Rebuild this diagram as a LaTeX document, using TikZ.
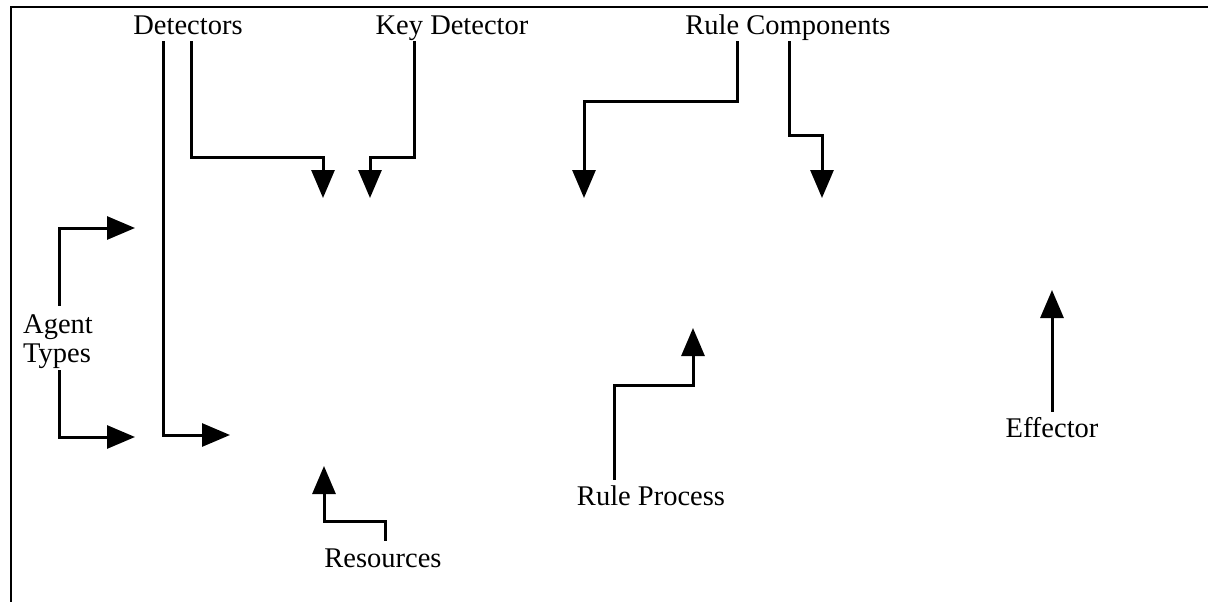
\documentclass[tikz,border=0pt]{standalone}
\usepackage{fontspec}
\setmainfont{Liberation Serif}
\usetikzlibrary{arrows.meta}

\tikzset{
  lbl/.style={inner sep=0pt, anchor=base, text height=19pt, text depth=6pt,
              font=\fontsize{28.5}{31}\selectfont},
  conn/.style={line width=3pt, -{Triangle[length=28pt,width=23pt]}},
  frame/.style={line width=2.5pt}
}

\begin{document}
\begin{tikzpicture}[x=1pt,y=-1pt]
  \useasboundingbox (0,0) rectangle (1208,602);

  % open frame: top and left edges only
  \draw[frame] (11,602) -- (11,7) -- (1208,7);

  % labels
  \node[lbl] (det)    at (188,35)  {Detectors};
  \node[lbl] (key)    at (452,35)  {Key Detector};
  \node[lbl] (rc)     at (788,35)  {Rule Components};
  \node[lbl] (agentA) at (58,333)  {Agent};
  \node[lbl] (agentB) at (57,362)  {Types};
  \node[lbl] (res)    at (383,567) {Resources};
  \node[lbl] (rp)     at (651,505) {Rule Process};
  \node[lbl] (eff)    at (1052,437){Effector};

  % free arrow ends
  \coordinate (tDetL)  at (230,435);
  \coordinate (tDetR)  at (323,198);
  \coordinate (tKey)   at (370,198);
  \coordinate (tRcL)   at (584,198);
  \coordinate (tRcR)   at (822,198);
  \coordinate (tAgU)   at (135,228);
  \coordinate (tAgD)   at (135,437);
  \coordinate (tRes)   at (324,466);
  \coordinate (tRp)    at (693,328);
  \coordinate (tEff)   at (1052,290);

  % connectors
  \draw[conn] ([xshift=-25pt]det.south) |- (tDetL);
  \draw[conn] ([xshift=3pt]det.south) -- ++(0,116) -| (tDetR);
  \draw[conn] ([xshift=-38pt]key.south) -- ++(0,116) -| (tKey);
  \draw[conn] ([xshift=-51pt]rc.south) -- ++(0,60) -| (tRcL);
  \draw[conn] ([xshift=1pt]rc.south) -- ++(0,94) -| (tRcR);
  \draw[conn] ([xshift=1pt,yshift=8pt]agentA.north) |- (tAgU);
  \draw[conn] ([xshift=2pt,yshift=-2pt]agentB.south) |- (tAgD);
  \draw[conn] ([xshift=2pt,yshift=7pt]res.north) -- ++(0,-19) -| (tRes);
  \draw[conn] ([xshift=-37pt,yshift=6pt]rp.north) -- ++(0,-94) -| (tRp);
  \draw[conn] ([yshift=6pt]eff.north) -- (tEff);
\end{tikzpicture}
\end{document}
